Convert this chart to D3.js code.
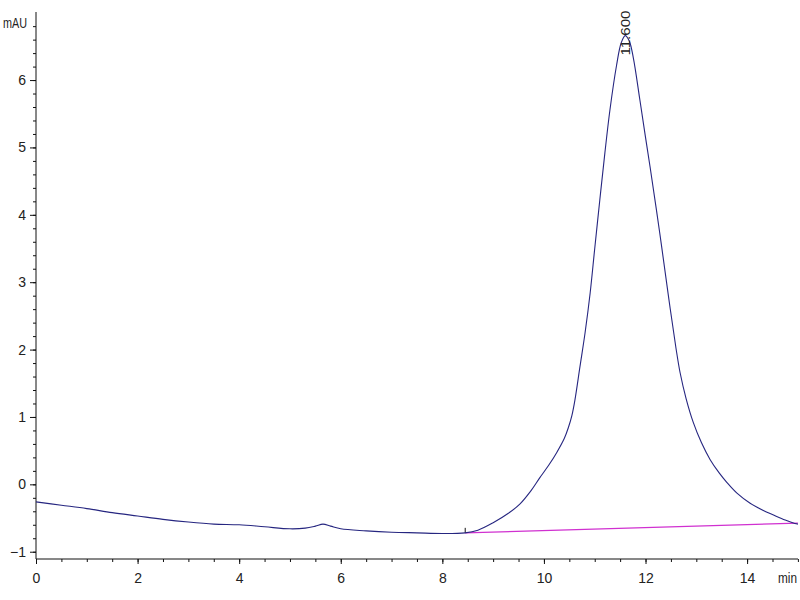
<!DOCTYPE html>
<html>
<head>
<meta charset="utf-8">
<script src="https://cdn.jsdelivr.net/npm/d3@7"></script>
<style>
	body { margin: 0; background: #fff; }
	svg { display: block; }
	text { font-family: "Liberation Sans Narrow", "Liberation Sans", Arial, sans-serif; fill: #222; }
</style>
</head>
<body>
<svg width="800" height="600"></svg>
<script>
// retention time (min) and signal (mAU)
var times = [0, 0.5, 1, 1.5, 2, 2.5, 3, 3.5, 4, 4.5, 5, 5.3, 5.5, 5.65, 5.8, 6, 6.5, 7, 7.5, 8, 8.45,
	8.7, 9, 9.3, 9.53, 9.75, 9.92, 10.1, 10.25, 10.4, 10.48, 10.55, 10.61, 10.71, 10.81, 10.91, 11.0,
	11.1, 11.2, 11.3, 11.43, 11.52, 11.6, 11.68, 11.76, 11.89, 12.0, 12.09, 12.28, 12.45, 12.6, 12.68,
	12.8, 12.94, 13.1, 13.27, 13.45, 13.6, 13.8, 14.06, 14.3, 14.52, 14.75, 14.94, 15];
var signal = [-0.26, -0.31, -0.36, -0.42, -0.47, -0.52, -0.56, -0.59, -0.60, -0.63, -0.66, -0.65, -0.62, -0.59, -0.62, -0.66, -0.69, -0.71, -0.72, -0.73, -0.72,
	-0.68, -0.57, -0.43, -0.29, -0.09, 0.10, 0.29, 0.47, 0.68, 0.84, 1.02, 1.25, 1.75, 2.25, 2.84, 3.50,
	4.22, 4.92, 5.56, 6.22, 6.55, 6.66, 6.58, 6.33, 5.70, 5.15, 4.71, 3.73, 2.80, 2.02, 1.66,
	1.27, 0.92, 0.62, 0.37, 0.17, 0.03, -0.13, -0.28, -0.38, -0.455, -0.53, -0.58, -0.59];

// integration baseline under the peak
var baseTimes = [8.45, 15];
var baseSignal = [-0.72, -0.575];

var peakTime = 11.6;
var peakHeight = 6.66;
var peakLabel = "11.600";

var xMajor = [0, 2, 4, 6, 8, 10, 12, 14];
var yMajor = [-1, 0, 1, 2, 3, 4, 5, 6];


function drawChart() {
	var svg = d3.select('svg');

	var x = d3.scaleLinear().domain([0, 15]).range([36, 797.9]);
	var y = d3.scaleLinear().domain([-1.108, 7.01]).range([559, 12]);

	// x axis: minor ticks every 0.5, labels on the even minutes
	var gx = svg.append("g")
		.attr("transform", "translate(0,559)")
		.call(d3.axisBottom(x).tickValues(d3.range(0, 15.01, 0.5)).tickSize(3).tickFormat(""));
	gx.select(".domain").attr("stroke", "#111").attr("d", "M36,0H798");

	var gxMaj = svg.append("g")
		.attr("transform", "translate(0,559)")
		.call(d3.axisBottom(x).tickValues(xMajor).tickSize(5).tickFormat(d3.format("d")));
	gxMaj.select(".domain").remove();
	gxMaj.selectAll("text")
		.attr("dy", null)
		.attr("y", 24)
		.style("font-size", "14px")
		.style("font-family", null);

	svg.append("text")
		.attr("x", 778)
		.attr("y", 583)
		.attr("textLength", 19)
		.attr("lengthAdjust", "spacingAndGlyphs")
		.style("font-size", "14px")
		.text("min");

	// y axis: minor ticks every 0.2 mAU
	var gy = svg.append("g")
		.attr("transform", "translate(36,0)")
		.call(d3.axisLeft(y).tickValues(d3.range(-1, 6.81, 0.2)).tickSize(3).tickFormat(""));
	gy.select(".domain").attr("stroke", "#111").attr("d", "M0,559V12");

	var gyMaj = svg.append("g")
		.attr("transform", "translate(36,0)")
		.call(d3.axisLeft(y).tickValues(yMajor).tickSize(6).tickFormat(d3.format("d")));
	gyMaj.select(".domain").remove();
	gyMaj.selectAll("text")
		.attr("x", -10)
		.style("font-size", "14px")
		.style("font-family", null);

	svg.selectAll(".tick line").attr("stroke", "#111");

	svg.append("text")
		.attr("x", 3)
		.attr("y", 28)
		.attr("textLength", 24)
		.attr("lengthAdjust", "spacingAndGlyphs")
		.style("font-size", "14px")
		.text("mAU");

	// baseline
	var basePts = baseTimes.map(function (t, i) { return [t, baseSignal[i]]; });
	svg.append("path")
		.datum(basePts)
		.attr("fill", "none")
		.attr("stroke", "#d030d0")
		.attr("stroke-width", 1.3)
		.attr("d", d3.line()
			.x(function (d) { return x(d[0]); })
			.y(function (d) { return y(d[1]); }));

	// peak start marker
	svg.append("line")
		.attr("x1", x(baseTimes[0])).attr("x2", x(baseTimes[0]))
		.attr("y1", y(baseSignal[0]) - 5).attr("y2", y(baseSignal[0]))
		.attr("stroke", "#111");

	// trace
	var pts = times.map(function (t, i) { return [t, signal[i]]; });
	svg.append("path")
		.datum(pts)
		.attr("fill", "none")
		.attr("stroke", "#262680")
		.attr("stroke-width", 1.1)
		.attr("d", d3.line()
			.curve(d3.curveCatmullRom.alpha(0.5))
			.x(function (d) { return x(d[0]); })
			.y(function (d) { return y(d[1]); }));

	// retention time label, rotated
	svg.append("text")
		.attr("transform", "translate(" + (x(peakTime) + 5) + "," + (y(peakHeight) + 20) + ") rotate(-90)")
		.attr("textLength", 45)
		.attr("lengthAdjust", "spacingAndGlyphs")
		.style("font-size", "13px")
		.text(peakLabel);
}

window.addEventListener("DOMContentLoaded", function() {
	drawChart()
}, false);
</script>
</body>
</html>
